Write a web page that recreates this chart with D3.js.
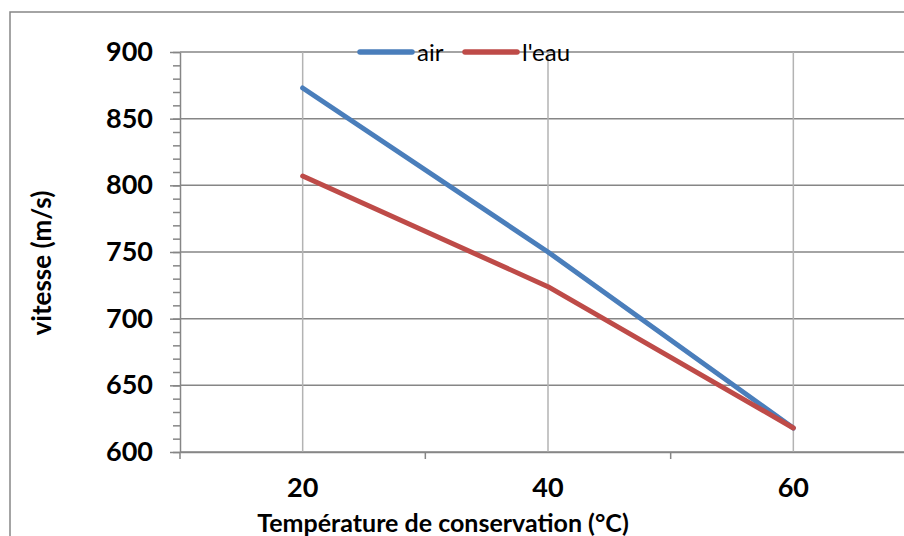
<!DOCTYPE html>
<html><head><meta charset="utf-8">
<script src="https://cdn.jsdelivr.net/npm/d3@7"></script>
<style>body{margin:0;background:#fff} svg{display:block}</style>
</head><body><svg id="c" width="904" height="536"></svg>
<script>
const categories = ["20", "40", "60"];
const airValues = [873, 750, 618];
const eauValues = [807, 724, 618];
const seriesNames = ["air", "l'eau"];
const seriesColors = ["#4a7ebb", "#be4b48"];
const yTicks = [600, 650, 700, 750, 800, 850, 900];
const yMinorTicks = d3.range(600, 901, 10);
const xTitle = "Température de conservation (°C)";
const yTitle = "vitesse (m/s)";

const svg = d3.select("#c");
const FONT = "Lato, 'Open Sans', sans-serif";
const GRID = "#868686";

const pL = 180, pR = 916, pT = 52, pB = 452;
const x = d3.scaleBand().domain(categories).range([pL, pR]);
const y = d3.scaleLinear().domain([600, 900]).range([pB, pT]);

// outer chart border
svg.append("path").attr("d", `M10,536 L10,12 L904,12`)
  .attr("fill", "none").attr("stroke", GRID).attr("stroke-width", 1.5);

// horizontal gridlines
svg.append("g").selectAll("line").data(yTicks).join("line")
  .attr("x1", pL).attr("x2", pR)
  .attr("y1", d => y(d)).attr("y2", d => y(d))
  .attr("stroke", GRID).attr("stroke-width", 1.5);

// vertical gridlines at category centres
svg.append("g").selectAll("line").data(categories).join("line")
  .attr("x1", d => x(d) + x.bandwidth() / 2).attr("x2", d => x(d) + x.bandwidth() / 2)
  .attr("y1", pT).attr("y2", pB)
  .attr("stroke", "#b3b3b3").attr("stroke-width", 1.5);

// y axis minor ticks
const yMinor = svg.append("g").attr("transform", `translate(${pL},0)`)
  .call(d3.axisLeft(y).tickValues(yMinorTicks).tickSize(7).tickFormat(""));
yMinor.select(".domain").remove();
yMinor.selectAll("line").attr("stroke", GRID).attr("stroke-width", 1.5);

// y axis major
const yAx = svg.append("g").attr("transform", `translate(${pL},0)`)
  .call(d3.axisLeft(y).tickValues(yTicks).tickSize(10).tickPadding(17).tickSizeOuter(0));
yAx.select(".domain").attr("stroke", GRID).attr("stroke-width", 1.5);
yAx.selectAll("line").attr("stroke", GRID).attr("stroke-width", 1.5);
yAx.selectAll("text").attr("font-family", FONT).attr("font-weight", "bold")
  .attr("font-size", 27).attr("fill", "#000");

// x axis
const xAx = svg.append("g").attr("transform", `translate(0,${pB})`)
  .call(d3.axisBottom(x).tickSize(0).tickPadding(26).tickSizeOuter(0));
xAx.select(".domain").attr("stroke", GRID).attr("stroke-width", 1.5);
xAx.selectAll("text").attr("font-family", FONT).attr("font-weight", "bold")
  .attr("font-size", 27).attr("fill", "#000");
// boundary ticks between categories
const bounds = categories.map(c => x(c)).concat([x(categories[categories.length - 1]) + x.step()]);
svg.append("g").selectAll("line").data(bounds).join("line")
  .attr("x1", d => d).attr("x2", d => d).attr("y1", pB).attr("y2", pB + 7)
  .attr("stroke", GRID).attr("stroke-width", 1.5);

// lines
const line = d3.line().x(d => x(d.c) + x.bandwidth() / 2).y(d => y(d.v));
[airValues, eauValues].forEach((vals, i) => {
  svg.append("path")
    .datum(categories.map((c, j) => ({ c, v: vals[j] })))
    .attr("d", line).attr("fill", "none")
    .attr("stroke", seriesColors[i]).attr("stroke-width", 5)
    .attr("stroke-linecap", "round").attr("stroke-linejoin", "round");
});

// legend
const legendX = [360, 465];
seriesNames.forEach((n, i) => {
  svg.append("line").attr("x1", legendX[i]).attr("x2", legendX[i] + 52)
    .attr("y1", 52).attr("y2", 52)
    .attr("stroke", seriesColors[i]).attr("stroke-width", 5.5).attr("stroke-linecap", "round");
  svg.append("text").attr("x", legendX[i] + 57).attr("y", 61)
    .attr("font-family", FONT).attr("font-size", 24).attr("fill", "#000").text(n);
});

// axis titles
svg.append("text").attr("x", 443).attr("y", 532).attr("text-anchor", "middle")
  .attr("font-family", FONT).attr("font-weight", "bold").attr("font-size", 25)
  .attr("fill", "#000").text(xTitle);
svg.append("text").attr("transform", "translate(51,263) rotate(-90)").attr("text-anchor", "middle")
  .attr("font-family", FONT).attr("font-weight", "bold").attr("font-size", 26)
  .attr("fill", "#000").text(yTitle);
</script>
</body></html>
